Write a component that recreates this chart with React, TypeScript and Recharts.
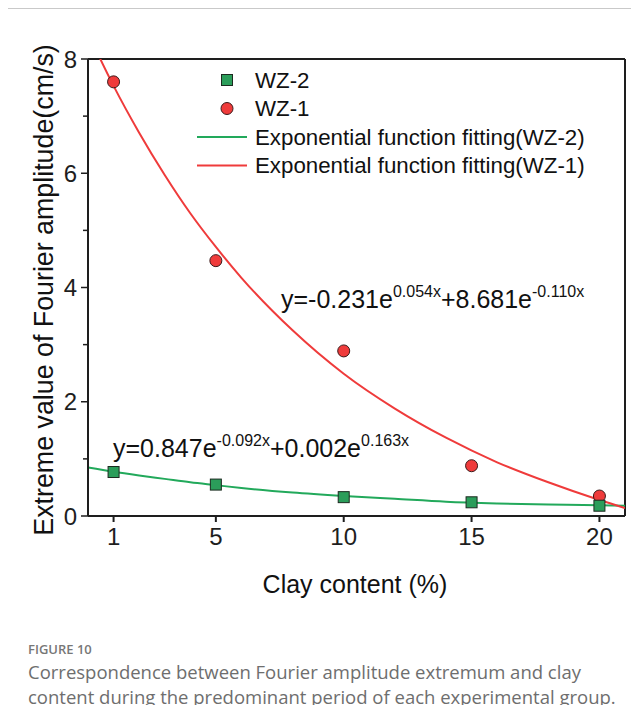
import React from "react";
import {
  ComposedChart,
  Line,
  Scatter,
  XAxis,
  YAxis,
  ReferenceLine,
} from "recharts";

// measured points
const clayContent = [1, 5, 10, 15, 20];
const wz1Values = [7.6, 4.47, 2.89, 0.88, 0.35];
const wz2Values = [0.77, 0.55, 0.33, 0.24, 0.18];

// fitted curves
const fitX = [0, 1, 2, 3, 4, 5, 6, 8, 10, 12, 14, 16, 18, 20, 21];
const fitWz1 = [8.45, 7.53, 6.71, 5.97, 5.3, 4.71, 4.17, 3.25, 2.49, 1.88, 1.37, 0.94, 0.59, 0.28, 0.14];
const fitWz2 = [0.85, 0.775, 0.71, 0.65, 0.59, 0.54, 0.49, 0.41, 0.35, 0.3, 0.25, 0.22, 0.2, 0.19, 0.18];

const xTicks = [1, 5, 10, 15, 20];
const yTicks = [0, 1, 2, 3, 4, 5, 6, 7, 8];

const RED = "#ef3b3b";
const GREEN = "#22a95b";
const AXIS = "#1e1e1e";
const FONT = "'Liberation Sans', Arial, sans-serif";

const wz1 = clayContent.map((x, i) => ({ x, y: wz1Values[i] }));
const wz2 = clayContent.map((x, i) => ({ x, y: wz2Values[i] }));
const fit1 = fitX.map((x, i) => ({ x, y: fitWz1[i] }));
const fit2 = fitX.map((x, i) => ({ x, y: fitWz2[i] }));

const legendItems = [
  { label: "WZ-2", kind: "square" },
  { label: "WZ-1", kind: "circle" },
  { label: "Exponential function fitting(WZ-2)", kind: "line", color: GREEN },
  { label: "Exponential function fitting(WZ-1)", kind: "line", color: RED },
];

const Circle = (p: any) => (
  <circle cx={p.cx} cy={p.cy} r={6} fill={RED} stroke="#3a1a1a" strokeWidth={1} />
);
const Square = (p: any) => (
  <rect x={p.cx - 5.5} y={p.cy - 5.5} width={11} height={11} fill="#2b9d5a" stroke="#1c2a20" strokeWidth={1} />
);

const XTick = (p: any) => (
  <text x={p.x} y={p.y} dy="0.71em" textAnchor="middle" fontSize={24} fill={AXIS} fontFamily={FONT}>
    {p.payload.value}
  </text>
);

// y ticks: labels on even values, shorter minor ticks on odd ones
const YTick = (p: any) => {
  const v = p.payload.value;
  const axisX = p.x + 10;
  const major = v % 2 === 0;
  return (
    <g>
      <line x1={axisX - (major ? 7 : 5)} x2={axisX} y1={p.y} y2={p.y} stroke={AXIS} strokeWidth={1.5} />
      {major && (
        <text x={p.x - 1} y={p.y} textAnchor="end" dominantBaseline="central" fontSize={24} fill={AXIS} fontFamily={FONT}>
          {v}
        </text>
      )}
    </g>
  );
};

export default function App() {
  return (
    <div style={{ position: "relative", width: 639, height: 713, margin: -8, background: "#fff", overflow: "hidden", fontFamily: FONT }}>
      <div
        style={{
          position: "absolute",
          left: 7,
          top: 8,
          width: 700,
          height: 720,
          borderTop: "1px solid #c9c9c9",
          borderLeft: "1px solid #c9c9c9",
        }}
      />
      <div style={{ position: "absolute", left: 0, top: 0 }}>
        <ComposedChart
          width={639}
          height={713}
          margin={{ top: 59, right: 14, bottom: 147, left: 30 }}
          style={{ fontFamily: FONT }}
        >
          <XAxis
            type="number"
            dataKey="x"
            domain={[0, 21]}
            ticks={xTicks}
            allowDataOverflow
            tickSize={6}
            tickMargin={6}
            height={50}
            stroke={AXIS}
            strokeWidth={2}
            tick={<XTick />}
          />
          <YAxis
            type="number"
            dataKey="y"
            domain={[0, 8]}
            ticks={yTicks}
            allowDataOverflow
            width={58}
            tickSize={7}
            tickMargin={3}
            tickLine={false}
            stroke={AXIS}
            strokeWidth={2}
            tick={<YTick />}
            interval={0}
          />
          <ReferenceLine y={8} stroke={AXIS} strokeWidth={2} />
          <ReferenceLine x={21} stroke={AXIS} strokeWidth={2} />
          <Line data={fit2} dataKey="y" type="monotone" stroke={GREEN} strokeWidth={2} dot={false} isAnimationActive={false} />
          <Line data={fit1} dataKey="y" type="monotone" stroke={RED} strokeWidth={2} dot={false} isAnimationActive={false} />
          <Scatter data={wz1} dataKey="y" shape={<Circle />} isAnimationActive={false} />
          <Scatter data={wz2} dataKey="y" shape={<Square />} isAnimationActive={false} />
        </ComposedChart>
      </div>
      <svg width={639} height={713} style={{ position: "absolute", left: 0, top: 0, pointerEvents: "none" }} fontFamily={FONT} fill="#111">
        <text x={44} y={290} fontSize={26.8} textAnchor="middle" dominantBaseline="central" transform="rotate(-90 44 290)">
          Extreme value of Fourier amplitude(cm/s)
        </text>
        <text x={355} y={584} fontSize={25} textAnchor="middle" dominantBaseline="central">
          Clay content (%)
        </text>
        {legendItems.map((it, i) => {
          const cy = 80 + i * 28.5;
          return (
            <g key={it.label}>
              {it.kind === "square" && <Square cx={227} cy={cy} />}
              {it.kind === "circle" && <Circle cx={227} cy={cy} />}
              {it.kind === "line" && <line x1={197} x2={247} y1={cy} y2={cy} stroke={it.color} strokeWidth={2} />}
              <text x={255} y={cy} fontSize={22.3} dominantBaseline="central">
                {it.label}
              </text>
            </g>
          );
        })}
        <text x={281} y={308} fontSize={25}>
          y=-0.231e<tspan fontSize={16} dy={-11}>0.054x</tspan>
          <tspan dy={11}>+8.681e</tspan>
          <tspan fontSize={16} dy={-11}>-0.110x</tspan>
        </text>
        <text x={113} y={457} fontSize={25}>
          y=0.847e<tspan fontSize={16} dy={-11}>-0.092x</tspan>
          <tspan dy={11}>+0.002e</tspan>
          <tspan fontSize={16} dy={-11}>0.163x</tspan>
        </text>
      </svg>
      <div style={{ position: "absolute", left: 28, top: 640, fontFamily: "'Open Sans', sans-serif", color: "#6e6e6e" }}>
        <div style={{ fontSize: 13, fontWeight: 600, color: "#777", lineHeight: "19px" }}>FIGURE 10</div>
        <div style={{ fontSize: 18.5, lineHeight: "25px" }}>
          Correspondence between Fourier amplitude extremum and clay
          <br />
          content during the predominant period of each experimental group.
        </div>
      </div>
    </div>
  );
}
